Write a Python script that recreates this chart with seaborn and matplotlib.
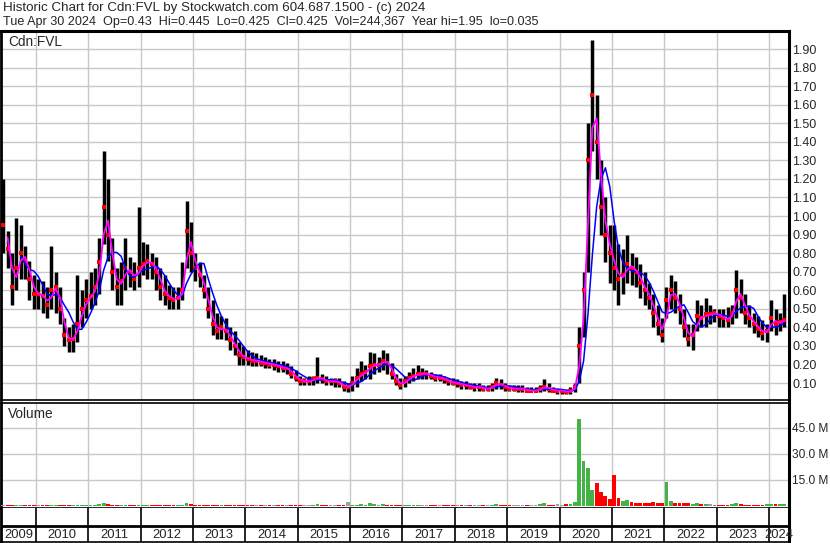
import numpy as np
import pandas as pd
import matplotlib
matplotlib.use("Agg")
import matplotlib.pyplot as plt
import seaborn as sns

# monthly bars, May 2009 .. Apr 2024
start_month = "2009-05"

high = [1.20, 0.92, 0.80, 0.99, 0.95, 0.84, 0.76, 0.68,
        0.66, 0.65, 0.62, 0.84, 0.70, 0.62, 0.45, 0.40, 0.42, 0.68, 0.60, 0.66,
        0.70, 0.72, 0.88, 1.35, 1.20, 0.88, 0.72, 0.75, 0.88, 0.78, 0.75, 1.05,
        0.86, 0.85, 0.80, 0.78, 0.72, 0.68, 0.63, 0.62, 0.62, 0.75, 1.08, 0.97,
        0.80, 0.75, 0.68, 0.62, 0.55, 0.48, 0.46, 0.45, 0.40, 0.38, 0.32, 0.30,
        0.28, 0.27, 0.26, 0.25, 0.24, 0.23, 0.23, 0.22, 0.22, 0.21, 0.19, 0.17,
        0.14, 0.13, 0.14, 0.14, 0.24, 0.15, 0.14, 0.13, 0.13, 0.13, 0.11, 0.10,
        0.14, 0.18, 0.22, 0.20, 0.27, 0.26, 0.24, 0.28, 0.26, 0.21, 0.15, 0.13,
        0.14, 0.16, 0.18, 0.20, 0.18, 0.17, 0.16, 0.15, 0.15, 0.14, 0.13, 0.13,
        0.12, 0.11, 0.11, 0.10, 0.10, 0.10, 0.09, 0.09, 0.10, 0.13, 0.12, 0.10,
        0.09, 0.09, 0.09, 0.09, 0.08, 0.08, 0.08, 0.09, 0.12, 0.10, 0.08, 0.07,
        0.07, 0.07, 0.08, 0.10, 0.40, 0.70, 1.50, 1.95, 1.65, 1.30, 1.10, 0.95,
        0.95, 0.85, 0.82, 0.90, 0.80, 0.78, 0.74, 0.70, 0.64, 0.58, 0.52, 0.45,
        0.62, 0.68, 0.65, 0.58, 0.50, 0.42, 0.42, 0.55, 0.52, 0.56, 0.52, 0.50,
        0.50, 0.50, 0.51, 0.52, 0.71, 0.66, 0.58, 0.52, 0.48, 0.46, 0.44, 0.42,
        0.55, 0.50, 0.48, 0.58]

low = [0.80, 0.72, 0.52, 0.60, 0.66, 0.66, 0.55, 0.50,
       0.50, 0.48, 0.45, 0.50, 0.48, 0.42, 0.30, 0.27, 0.27, 0.32, 0.40, 0.45,
       0.50, 0.52, 0.58, 0.85, 0.76, 0.60, 0.52, 0.52, 0.60, 0.62, 0.60, 0.62,
       0.68, 0.66, 0.66, 0.60, 0.55, 0.52, 0.50, 0.50, 0.50, 0.55, 0.72, 0.70,
       0.65, 0.62, 0.56, 0.45, 0.36, 0.34, 0.34, 0.33, 0.28, 0.25, 0.20, 0.20,
       0.20, 0.19, 0.19, 0.19, 0.18, 0.18, 0.17, 0.16, 0.16, 0.15, 0.13, 0.11,
       0.09, 0.09, 0.09, 0.09, 0.10, 0.10, 0.09, 0.09, 0.08, 0.08, 0.06, 0.05,
       0.06, 0.08, 0.11, 0.12, 0.12, 0.15, 0.16, 0.17, 0.15, 0.12, 0.09, 0.07,
       0.08, 0.10, 0.11, 0.12, 0.12, 0.12, 0.12, 0.11, 0.11, 0.10, 0.09, 0.09,
       0.08, 0.07, 0.07, 0.07, 0.06, 0.06, 0.06, 0.06, 0.06, 0.07, 0.07, 0.06,
       0.06, 0.06, 0.05, 0.05, 0.05, 0.05, 0.05, 0.05, 0.06, 0.05, 0.05, 0.04,
       0.04, 0.04, 0.04, 0.05, 0.10, 0.35, 0.70, 1.35, 1.20, 0.90, 0.75, 0.64,
       0.60, 0.52, 0.58, 0.64, 0.63, 0.62, 0.56, 0.52, 0.50, 0.40, 0.36, 0.32,
       0.45, 0.50, 0.48, 0.42, 0.35, 0.30, 0.28, 0.38, 0.40, 0.40, 0.42, 0.43,
       0.40, 0.40, 0.40, 0.42, 0.45, 0.48, 0.42, 0.40, 0.37, 0.35, 0.33, 0.32,
       0.38, 0.36, 0.38, 0.40]

close = [0.95, 0.82, 0.62, 0.72, 0.80, 0.76, 0.66, 0.58,
         0.58, 0.57, 0.52, 0.60, 0.62, 0.50, 0.36, 0.33, 0.34, 0.42, 0.50, 0.55,
         0.57, 0.62, 0.75, 1.05, 0.90, 0.70, 0.62, 0.65, 0.72, 0.70, 0.66, 0.72,
         0.74, 0.76, 0.74, 0.70, 0.62, 0.58, 0.56, 0.55, 0.56, 0.60, 0.92, 0.80,
         0.72, 0.68, 0.60, 0.50, 0.42, 0.38, 0.40, 0.38, 0.33, 0.30, 0.25, 0.24,
         0.23, 0.22, 0.22, 0.21, 0.21, 0.20, 0.20, 0.19, 0.18, 0.18, 0.15, 0.13,
         0.11, 0.11, 0.11, 0.12, 0.13, 0.12, 0.11, 0.11, 0.11, 0.10, 0.08, 0.08,
         0.10, 0.13, 0.15, 0.16, 0.19, 0.20, 0.20, 0.22, 0.21, 0.15, 0.11, 0.09,
         0.11, 0.13, 0.14, 0.15, 0.15, 0.15, 0.14, 0.13, 0.13, 0.12, 0.11, 0.10,
         0.10, 0.09, 0.09, 0.08, 0.08, 0.08, 0.07, 0.07, 0.08, 0.10, 0.09, 0.08,
         0.07, 0.07, 0.07, 0.07, 0.06, 0.06, 0.06, 0.07, 0.08, 0.07, 0.06, 0.06,
         0.06, 0.05, 0.06, 0.08, 0.30, 0.60, 1.30, 1.65, 1.40, 1.05, 0.90, 0.80,
         0.72, 0.66, 0.68, 0.74, 0.72, 0.70, 0.64, 0.60, 0.56, 0.48, 0.42, 0.36,
         0.55, 0.60, 0.56, 0.50, 0.40, 0.34, 0.36, 0.46, 0.45, 0.47, 0.47, 0.48,
         0.46, 0.45, 0.44, 0.48, 0.60, 0.56, 0.48, 0.45, 0.42, 0.39, 0.37, 0.38,
         0.45, 0.42, 0.43, 0.44]

# volume in millions of shares
volume = [0.8, 0.7, 0.6, 0.8, 0.6, 0.5, 0.6, 0.5,
          0.6, 0.5, 0.6, 0.8, 0.6, 0.5, 0.5, 0.6, 0.5, 0.8, 0.6, 0.6,
          0.6, 0.7, 0.9, 1.6, 1.0, 0.7, 0.6, 0.6, 0.7, 0.6, 0.6, 0.8,
          0.7, 0.6, 0.6, 0.6, 0.5, 0.5, 0.5, 0.5, 0.5, 0.8, 1.8, 0.9,
          0.8, 0.7, 0.7, 0.8, 0.7, 0.6, 0.6, 0.6, 0.7, 0.6, 0.6, 0.5,
          0.6, 0.5, 0.5, 0.5, 0.5, 0.5, 0.5, 0.5, 0.5, 0.5, 0.6, 0.6,
          0.5, 0.5, 0.5, 0.5, 1.0, 0.5, 0.5, 0.5, 0.5, 0.5, 0.6, 2.4,
          0.8, 0.8, 0.9, 0.8, 2.0, 1.0, 0.8, 1.0, 0.8, 0.7, 0.6, 0.5,
          0.6, 0.6, 0.7, 0.6, 0.6, 0.5, 0.5, 0.5, 0.5, 0.5, 0.5, 0.5,
          0.5, 0.5, 0.5, 0.5, 0.4, 0.4, 0.4, 0.4, 0.5, 0.9, 0.6, 0.5,
          0.5, 0.6, 0.5, 0.6, 0.5, 0.5, 0.6, 0.9, 1.8, 0.8, 0.6, 0.9,
          0.8, 1.2, 1.0, 2.5, 50.0, 26.0, 22.0, 9.0, 13.0, 8.0, 6.0, 4.0,
          18.0, 4.5, 3.0, 3.5, 2.5, 2.0, 1.5, 1.5, 1.8, 2.2, 2.0, 1.8,
          13.8, 3.0, 2.0, 1.5, 1.5, 1.5, 1.2, 1.5, 1.0, 1.2, 1.0, 0.8,
          0.8, 0.7, 0.8, 0.9, 1.5, 1.0, 0.8, 0.7, 0.7, 0.8, 0.8, 0.9,
          1.0, 1.2, 0.9, 1.0]

years = list(range(2009, 2025))
price_ticks = [0.10, 0.20, 0.30, 0.40, 0.50, 0.60, 0.70, 0.80, 0.90, 1.00,
               1.10, 1.20, 1.30, 1.40, 1.50, 1.60, 1.70, 1.80, 1.90]
vol_ticks = [15, 30, 45]

title_1 = "Historic Chart for Cdn:FVL by Stockwatch.com 604.687.1500 - (c) 2024"
title_2 = ("Tue Apr 30 2024  Op=0.43  Hi=0.445  Lo=0.425  Cl=0.425  "
           "Vol=244,367  Year hi=1.95  lo=0.035")

sns.set_style("white")
plt.rcParams['font.family'] = ['Liberation Sans', 'DejaVu Sans']

df = pd.DataFrame({'high': high, 'low': low, 'close': close, 'volume': volume})
months = pd.period_range(start_month, periods=len(df), freq='M')
df['t'] = months.year + (months.month - 0.5) / 12
df['ma_fast'] = df['close'].rolling(2, min_periods=2).mean()
df['ma_slow'] = df['close'].rolling(5, min_periods=5).mean()
chg = df['close'].diff()
df['vcol'] = np.where(chg > 0, '#44b244', np.where(chg < 0, '#ff0000', '#a0a0a0'))

W, H = 830, 543
fig = plt.figure(figsize=(W / 100, H / 100), dpi=100)


def box(x0, y0, x1, y1):
    return [x0 / W, 1 - y1 / H, (x1 - x0) / W, (y1 - y0) / H]


x_left = 2010 + (1 - 36) / 52.36
x_right = 2024 + (789 - 769) / 52.36
grid_c = '#c8c8c8'

ax_p = fig.add_axes(box(1, 31, 789, 400))
ax_v = fig.add_axes(box(1, 403, 789, 508))
ax_s = fig.add_axes(box(1, 508, 789, 542))

for ax in (ax_p, ax_v):
    ax.set_xlim(x_left, x_right)
    ax.set_xticks(years[1:])
    ax.set_xticklabels([])
    ax.yaxis.tick_right()
    ax.grid(True, color=grid_c, lw=1.0)
    ax.set_axisbelow(True)
    for s in ax.spines.values():
        s.set_color('black')
        s.set_linewidth(1.2)
    ax.spines['right'].set_linewidth(2.2)
    ax.spines['left'].set_linewidth(2.0)

ax_p.spines['top'].set_linewidth(2.2)
ax_p.tick_params(axis='both', length=0, labelsize=9, pad=2.5)
ax_v.tick_params(axis='both', length=0, labelsize=8.6, pad=2.5)

# price panel
ax_p.set_ylim(0.009, 1.997)
ax_p.set_yticks(price_ticks)
ax_p.set_yticklabels([f"{v:.2f}" for v in price_ticks])
ax_p.vlines(df['t'], df['low'], df['high'], color='black', lw=2.5, zorder=3)
ax_p.plot(df['t'], df['close'], 's', color='#ff0000', ms=2.4, mew=0, zorder=4)
sns.lineplot(data=df, x='t', y='ma_slow', ax=ax_p, color='#0000ff', lw=1.1,
             estimator=None, sort=False, zorder=5)
sns.lineplot(data=df, x='t', y='ma_fast', ax=ax_p, color='#ff00ff', lw=1.3,
             estimator=None, sort=False, zorder=6)
ax_p.set_xlabel('')
ax_p.set_ylabel('')
ax_p.text(7 / 788, 1 - 11 / 369, "Cdn:FVL", transform=ax_p.transAxes,
          fontsize=9.8, va='center', ha='left')

# volume panel
ax_v.set_ylim(-1.15, 59.4)
ax_v.set_yticks(vol_ticks)
ax_v.set_yticklabels([f"{v:.1f} M" for v in vol_ticks])
ax_v.bar(df['t'], df['volume'], width=0.072, color=df['vcol'], lw=0, zorder=3)
ax_v.text(7 / 788, 1 - 11 / 105, "Volume", transform=ax_v.transAxes,
          fontsize=9.8, va='center', ha='left')

# date strip
ax_s.set_xlim(x_left, x_right)
ax_s.set_ylim(0, 1)
ax_s.set_xticks([])
ax_s.set_yticks([])
for s in ax_s.spines.values():
    s.set_color('black')
    s.set_linewidth(1.2)
ax_s.spines['right'].set_linewidth(2.2)
ax_s.spines['left'].set_linewidth(2.0)
ax_s.spines['top'].set_visible(False)
ax_s.vlines(years[1:], 0, 1, color='black', lw=1.2)
ax_s.axhline(16 / 34, color='black', lw=2.0)
for y in years:
    lo_ = max(y, x_left)
    hi_ = min(y + 1, x_right)
    ax_s.text((lo_ + hi_) / 2, 7.5 / 34, str(y), ha='center', va='center', fontsize=9.4)

fig.text(3 / W, 1 - 8 / H, title_1, fontsize=9.6, va='center', ha='left')
fig.text(3 / W, 1 - 22 / H, title_2, fontsize=9.1, va='center', ha='left')

fig.savefig("out.png", dpi=100)
